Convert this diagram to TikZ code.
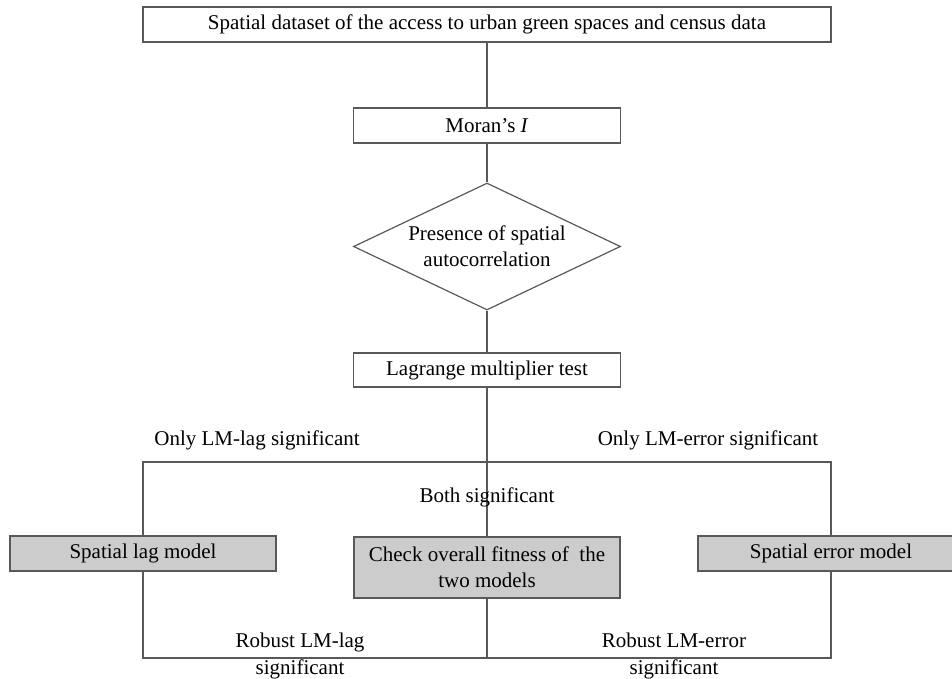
\documentclass[tikz,border=0pt]{standalone}
\usepackage{fontspec}
\setmainfont{Liberation Serif}
\usetikzlibrary{shapes.geometric}
\tikzset{
  stepbox/.style={draw=black!65, line width=0.7pt, inner sep=0pt, minimum height=17.5pt},
  modelbox/.style={stepbox, fill=black!20},
  link/.style={draw=black!65, line width=0.55pt},
  lbl/.style={align=center, inner sep=0pt},
}
\begin{document}
\begin{tikzpicture}[x=0.5pt, y=-0.5pt, every node/.style={font=\fontsize{10.5}{12.8}\selectfont}]
  \useasboundingbox (0,0) rectangle (952,679);

  % main column
  \node[stepbox, minimum width=344pt] (data) at (487,24.5)
    {Spatial dataset of the access to urban green spaces and census data};
  \node[stepbox, minimum width=133.5pt] (moran) at (487,125.5) {Moran’s \textit{I}};
  \node[draw=black!65, line width=0.6pt, diamond, aspect=2.1, inner sep=0pt, align=center,
        minimum width=133.5pt, minimum height=63.5pt] (presence) at (487,246.5)
    {Presence of spatial\\autocorrelation};
  \node[stepbox, minimum width=133.5pt, minimum height=17pt] (lmtest) at (487,370)
    {Lagrange multiplier test};

  % models
  \node[modelbox, minimum width=133pt] (lagm) at (143,553.5) {Spatial lag model};
  \node[modelbox, minimum width=133pt, minimum height=30.5pt, align=center] (fitness) at (487,567.5)
    {Check overall fitness of \ the\\two models};
  \node[modelbox, minimum width=133pt] (errm) at (831,553.5) {Spatial error model};

  % frame corners
  \coordinate (ftl) at (143,462);
  \coordinate (ftr) at (831,462);
  \coordinate (fbl) at (143,658);
  \coordinate (fbr) at (831,658);
  \coordinate (fbc) at (487,658);

  % connectors
  \draw[link] (data) -- (moran);
  \draw[link] (moran) -- (presence);
  \draw[link] (presence) -- (lmtest);
  \draw[link] (lmtest) -- (fitness);
  \draw[link] (lagm) -- (ftl) -- (ftr) -- (errm);
  \draw[link] (lagm) -- (fbl) -- (fbr) -- (errm);
  \draw[link] (fitness) -- (fbc);

  % labels
  \node[lbl] (onlylag) at (257,440) {Only LM-lag significant};
  \node[lbl] (onlyerr) at (708,440) {Only LM-error significant};
  \node[lbl] (both) at (487,497) {Both significant};
  \node[lbl, font=\fontsize{10.5}{13.5}\selectfont] (roblag) at (300,656) {Robust LM-lag\\significant};
  \node[lbl, font=\fontsize{10.5}{13.5}\selectfont] (roberr) at (674,656) {Robust LM-error\\significant};
\end{tikzpicture}
\end{document}
